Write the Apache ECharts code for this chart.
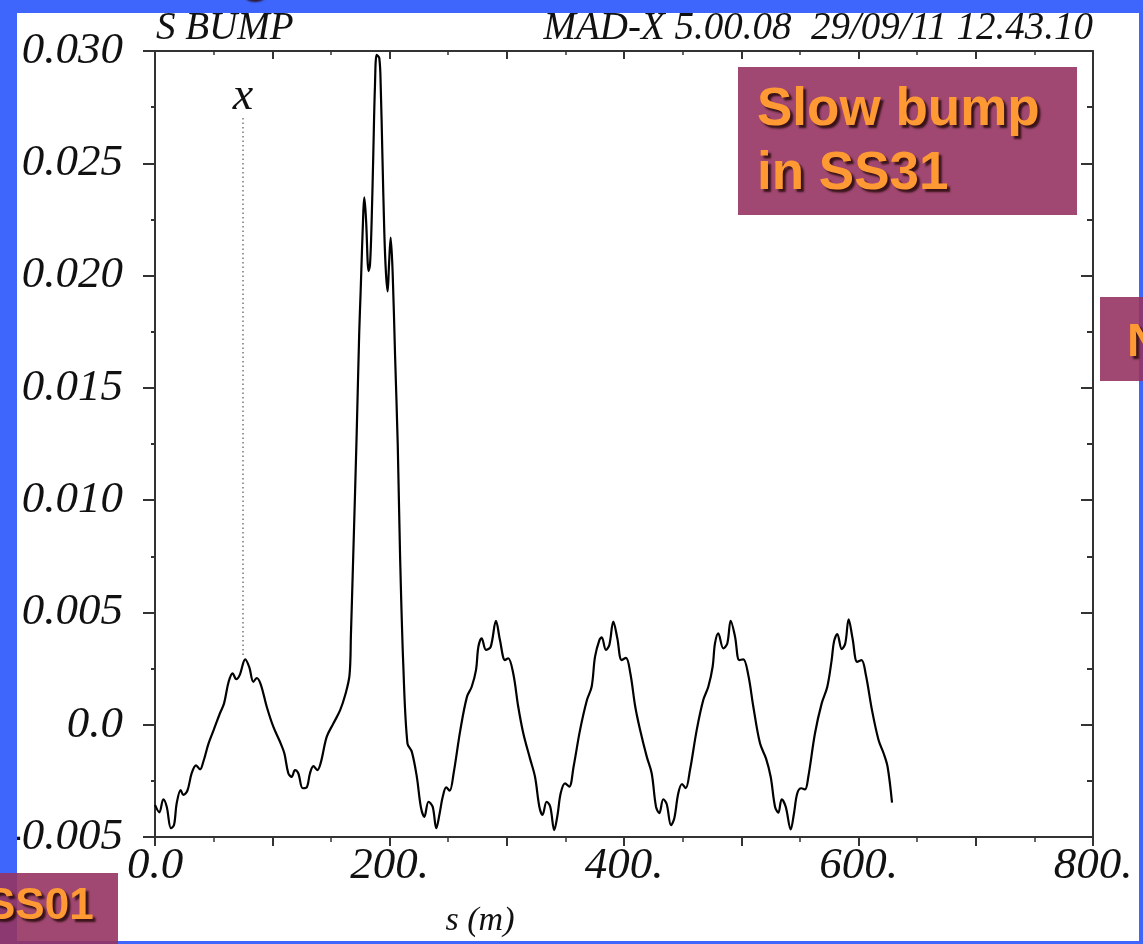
<!DOCTYPE html>
<html>
<head>
<meta charset="utf-8">
<title>S BUMP</title>
<script src="https://cdn.jsdelivr.net/npm/echarts@6/dist/echarts.min.js"></script>
<style>
  html, body { margin: 0; padding: 0; background: #ffffff; }
  #chart { width: 1143px; height: 944px; }
</style>
</head>
<body>
<div id="chart"></div>
<script>
// Horizontal orbit x (m) along the machine, position s (m)
const sPos = [
  0, 3.7, 7.1, 10, 13.6, 16.2, 18.5, 21.9, 24.2, 27.6, 31.3, 35, 38.4, 41.2, 45.7, 50, 55.4, 58.9,
  62.8, 66.2, 69.3, 72.2, 77, 80.4, 83.9, 86.7, 90.1, 95.3, 100.9, 106.6, 110.3, 113.7, 116.6,
  119.4, 122.2, 126, 129.4, 132.2, 135.1, 138.5, 141.4, 146.5, 152.2, 157.9, 162.2, 165.9, 167.1,
  169.1, 172, 174.2, 175.4, 177.7, 178.5, 180, 182.2, 183.4, 184.8, 186.2, 187.6, 189.1, 191.3,
  192.5, 193.9, 195.6, 197, 198.4, 199.6, 201, 202.7, 204.7, 207, 209, 211.8, 215.3, 219, 223.3,
  226.7, 229.7, 233.3, 236.8, 239.9, 242.8, 245.4, 248.4, 251.3, 254.7, 260.4, 266.1, 270.1,
  273.8, 275.8, 278.6, 282.3, 286.3, 290.8, 294.2, 298.5, 301.2, 305.5, 309.8, 314.1, 319.8,
  324.1, 327.8, 330.5, 334, 337.1, 340.5, 343.3, 346, 349.7, 353.3, 357, 362.5, 368.4, 372.4,
  375.3, 379, 381, 384.6, 387.5, 390.9, 394.3, 398, 401.7, 405.4, 409.6, 413.6, 419.4, 423.6,
  427.3, 430.1, 433.5, 436.4, 440.1, 442.9, 446.3, 449.5, 452.6, 456.3, 462, 467.6, 471.9, 475.6,
  477.6, 480.4, 484.7, 488.1, 491, 494.7, 498.3, 501.8, 506, 510.3, 516, 521.1, 525.1, 528.8,
  531.6, 534.5, 537.9, 542.2, 545, 547.8, 551.2, 554.4, 557.2, 562.9, 568.6, 573.4, 577.1, 579.1,
  581.9, 585.7, 588.7, 591.6, 594.9, 598.9, 602.6, 606.3, 611.5, 617.1, 621.4, 624.8, 628.6
];
const xOrbit = [
  -0.00357, -0.0039, -0.00332, -0.00365, -0.00461, -0.00447, -0.0035, -0.00291, -0.00313, -0.00294,
  -0.00216, -0.00181, -0.00199, -0.00165, -0.00083, -0.00024, 0.00051, 0.00095,
  0.00191, 0.00229, 0.00203, 0.00221, 0.00291, 0.00256, 0.00191, 0.00208, 0.00181, 0.0008,
  -0.00009, -0.00076, -0.00127, -0.00216, -0.00232,
  -0.00202, -0.00216, -0.00283, -0.00279, -0.00216, -0.00184, -0.00202, -0.00169, -0.00053,
  0.00006, 0.00065, 0.00132, 0.00221, 0.0040,
  0.00757, 0.01294, 0.01751, 0.0193, 0.02288, 0.02348, 0.02248, 0.0202, 0.0205, 0.02248,
  0.02546, 0.02844, 0.02983, 0.02968,
  0.02844, 0.02546, 0.02188, 0.0201, 0.0193, 0.0205, 0.02169, 0.0201, 0.01652, 0.01254,
  0.00757, 0.0026, -0.00083, -0.0012, -0.00232,
  -0.00365, -0.0041, -0.00343, -0.00365, -0.00461, -0.00394, -0.00321, -0.00279, -0.00294,
  -0.00216, -0.00024, 0.00125, 0.00169,
  0.00244, 0.00347, 0.00385, 0.00333, 0.00347, 0.00462, 0.00377, 0.00288, 0.00296, 0.00229,
  0.0008, -0.00038, -0.0015,
  -0.00232, -0.00365, -0.00402, -0.00343, -0.00365, -0.00469, -0.00402, -0.00305, -0.00261,
  -0.00276, -0.00187, -0.00024, 0.0011, 0.00169,
  0.00303, 0.00377, 0.00389, 0.00333, 0.00355, 0.00459, 0.00385, 0.00288, 0.00298, 0.00229,
  0.0008, -0.0002, -0.00142, -0.00216,
  -0.00365, -0.00394, -0.00332, -0.00353, -0.00447, -0.00417, -0.00305, -0.00264, -0.00283,
  -0.00202, -0.00024, 0.0011, 0.00169, 0.00258,
  0.00362, 0.00407, 0.0034, 0.00362, 0.00463, 0.00392, 0.00288, 0.00291, 0.00221, 0.0008,
  -0.00083, -0.0015, -0.00232, -0.00365,
  -0.00392, -0.00332, -0.00365, -0.00466, -0.00394, -0.00305, -0.00283, -0.00288, -0.00232,
  -0.00038, 0.00095, 0.00169, 0.00288, 0.0037,
  0.00404, 0.00337, 0.00362, 0.00469, 0.00385, 0.0028, 0.00288, 0.00221, 0.00065, -0.00068,
  -0.00127, -0.00187, -0.00347
];

// Axis tick labels
const sTickValues = [0, 200, 400, 600, 800];
const sTickLabels = ['0.0', '200.', '400.', '600.', '800.'];
const xTickValues = [-0.005, 0, 0.005, 0.010, 0.015, 0.020, 0.025, 0.030];
const xTickLabels = ['-0.005', '0.0', '0.005', '0.010', '0.015', '0.020', '0.025', '0.030'];

// Element marker (dotted line with its name)
const markerName = 'x';
const markerS = 75;
const markerFrom = 0.0031;
const markerTo = 0.02714;

// Header / annotations
const plotTitle = 'S BUMP';
const plotStamp = 'MAD-X 5.00.08  29/09/11 12.43.10';
const sAxisTitle = 's (m)';
const boxLines = ['Slow bump', 'in SS31'];
const sideLabelRight = 'N';
const sideLabelLeft = 'SS01';

const serif = '"Liberation Serif", "DejaVu Serif", serif';
const sans = '"Liberation Sans", Arial, sans-serif';
const axisColor = '#333333';
const slideBlue = '#3e66fc';
const boxFill = 'rgba(150, 52, 98, 0.9)';
const orange = '#ff9933';

function labelFor(values, labels, v) {
  for (let i = 0; i < values.length; i++) {
    if (Math.abs(values[i] - v) < 1e-9) return labels[i];
  }
  return '';
}

const orangeText = (text, x, y, size, align) => ({
  type: 'text',
  z: 30,
  style: {
    text: text,
    x: x, y: y,
    fill: orange,
    font: 'bold ' + size + 'px ' + sans,
    align: align || 'left',
    verticalAlign: 'middle',
    textShadowColor: 'rgba(40, 10, 10, 0.85)',
    textShadowOffsetX: 3,
    textShadowOffsetY: 3,
    textShadowBlur: 2
  }
});

const chart = echarts.init(document.getElementById('chart'), null, { renderer: 'canvas' });

const commonAxisLine = { show: true, onZero: false, lineStyle: { color: axisColor, width: 2 } };

const option = {
  backgroundColor: '#ffffff',
  animation: false,
  grid: { left: 155, right: 50, top: 51, bottom: 107, containLabel: false },
  xAxis: [
    {
      type: 'value', position: 'bottom', min: 0, max: 800, interval: 100,
      axisLine: commonAxisLine,
      axisTick: { show: true, inside: false, length: 9, lineStyle: { color: axisColor, width: 2 } },
      minorTick: { show: true, splitNumber: 2, length: 5, lineStyle: { color: axisColor, width: 1.5 } },
      splitLine: { show: false },
      axisLabel: {
        show: true, margin: 7, showMinLabel: true, showMaxLabel: true,
        formatter: v => labelFor(sTickValues, sTickLabels, v),
        fontFamily: serif, fontStyle: 'italic', fontSize: 45, color: '#111111'
      }
    },
    {
      type: 'value', position: 'top', min: 0, max: 800, interval: 100,
      axisLine: commonAxisLine,
      axisTick: { show: true, inside: true, length: 8, lineStyle: { color: axisColor, width: 2 } },
      minorTick: { show: true, splitNumber: 2, length: 4, lineStyle: { color: axisColor, width: 1.5 } },
      splitLine: { show: false },
      axisLabel: { show: false }
    }
  ],
  yAxis: [
    {
      type: 'value', position: 'left', min: -0.005, max: 0.030, interval: 0.005,
      axisLine: commonAxisLine,
      axisTick: { show: true, inside: false, length: 12, lineStyle: { color: axisColor, width: 2 } },
      minorTick: { show: true, splitNumber: 2, length: 4, lineStyle: { color: axisColor, width: 2 } },
      splitLine: { show: false },
      axisLabel: {
        show: true, margin: 32, showMinLabel: true, showMaxLabel: true,
        formatter: v => labelFor(xTickValues, xTickLabels, v),
        fontFamily: serif, fontStyle: 'italic', fontSize: 45, color: '#111111'
      }
    },
    {
      type: 'value', position: 'right', min: -0.005, max: 0.030, interval: 0.005,
      axisLine: commonAxisLine,
      axisTick: { show: true, inside: true, length: 12, lineStyle: { color: axisColor, width: 2 } },
      minorTick: { show: true, splitNumber: 2, length: 6, lineStyle: { color: axisColor, width: 2 } },
      splitLine: { show: false },
      axisLabel: { show: false }
    }
  ],
  series: [
    {
      type: 'line',
      name: markerName,
      xAxisIndex: 0, yAxisIndex: 0,
      data: sPos.map((s, i) => [s, xOrbit[i]]),
      showSymbol: false,
      smooth: 0.35,
      clip: false,
      lineStyle: { color: '#000000', width: 2.2 },
      markLine: {
        silent: true,
        symbol: ['none', 'none'],
        lineStyle: { type: [1.5, 3], color: '#777777', width: 1.5 },
        label: {
          show: true, position: 'end', distance: -5,
          formatter: markerName,
          fontFamily: serif, fontStyle: 'italic', fontSize: 46, color: '#111111'
        },
        data: [[{ coord: [markerS, markerFrom] }, { coord: [markerS, markerTo] }]]
      }
    }
  ],
  graphic: {
    elements: [
      // slide frame around the white plot sheet
      { type: 'rect', z: 20, shape: { x: 0, y: 0, width: 1143, height: 13 }, style: { fill: slideBlue } },
      { type: 'rect', z: 20, shape: { x: 0, y: 0, width: 17, height: 944 }, style: { fill: slideBlue } },
      { type: 'rect', z: 20, shape: { x: 1139, y: 0, width: 4, height: 944 }, style: { fill: slideBlue } },
      { type: 'rect', z: 20, shape: { x: 0, y: 941, width: 1143, height: 3 }, style: { fill: slideBlue } },
      orangeText('g', 238, -24, 48),
      // plot header
      {
        type: 'text', z: 25,
        style: { text: plotTitle, x: 156, y: 29, fill: '#111111', font: 'italic 39px ' + serif, align: 'left', verticalAlign: 'middle' }
      },
      {
        type: 'text', z: 25,
        style: { text: plotStamp, x: 1093, y: 29, fill: '#111111', font: 'italic 39px ' + serif, align: 'right', verticalAlign: 'middle' }
      },
      {
        type: 'text', z: 25,
        style: { text: sAxisTitle, x: 480, y: 921, fill: '#111111', font: 'italic 34px ' + serif, align: 'center', verticalAlign: 'middle' }
      },
      // annotation boxes
      { type: 'rect', z: 28, shape: { x: 738, y: 67, width: 339, height: 148 }, style: { fill: boxFill } },
      orangeText(boxLines[0], 757, 110, 53),
      orangeText(boxLines[1], 757, 174, 53),
      { type: 'rect', z: 28, shape: { x: 1100, y: 297, width: 43, height: 84 }, style: { fill: boxFill } },
      orangeText(sideLabelRight, 1127, 343, 47),
      { type: 'rect', z: 28, shape: { x: 0, y: 873, width: 118, height: 71 }, style: { fill: boxFill } },
      orangeText(sideLabelLeft, -14, 907, 44)
    ]
  }
};

chart.setOption(option);
</script>
</body>
</html>
